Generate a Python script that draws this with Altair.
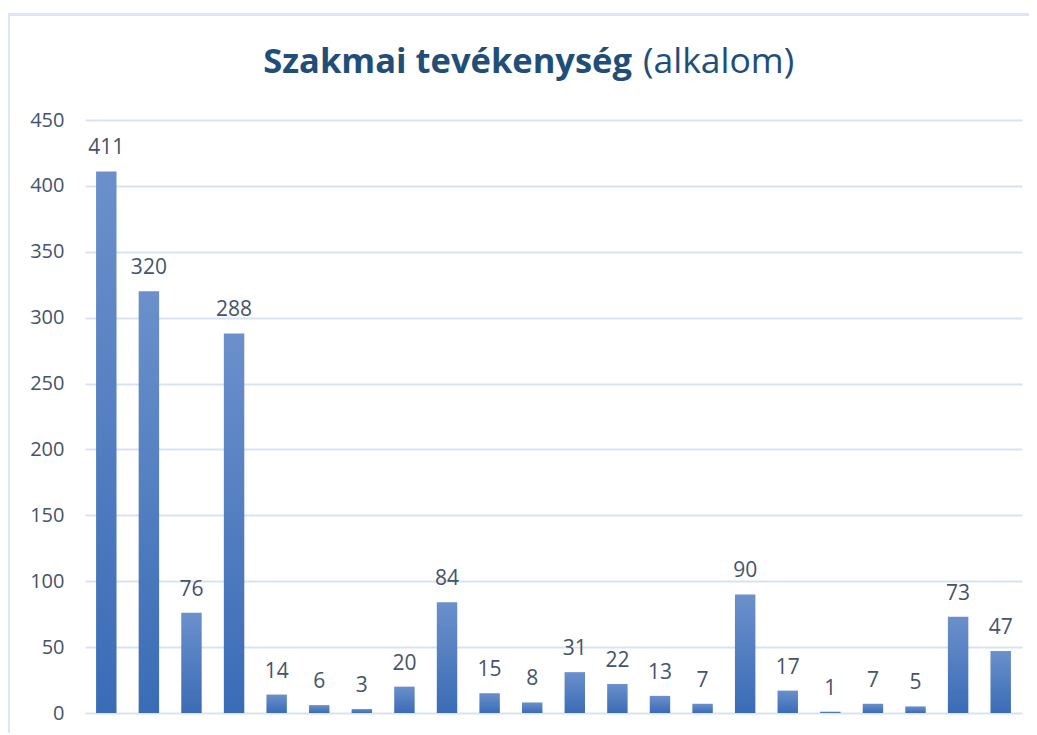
import altair as alt
import pandas as pd

categories = [str(i) for i in range(1, 23)]
values = [411, 320, 76, 288, 14, 6, 3, 20, 84, 15, 8, 31, 22, 13, 7, 90, 17, 1, 7, 5, 73, 47]
y_ticks = [0, 50, 100, 150, 200, 250, 300, 350, 400, 450]
title_bold = "Szakmai tevékenység"
title_normal = "(alkalom)"

df = pd.DataFrame({"cat": categories, "val": values})
one = pd.DataFrame({"k": [0]})

FONT = "Open Sans"
LABEL_COLOR = "#44546A"
TITLE_COLOR = "#1F4E79"
GRID = "#D9E2F3"

x_enc = alt.X("cat:N", sort=None, axis=None,
              scale=alt.Scale(paddingInner=0.52, paddingOuter=0.26))
y_enc = alt.Y("val:Q", scale=alt.Scale(domain=[0, 450], nice=False),
              axis=alt.Axis(values=y_ticks, title=None, domain=False, ticks=False,
                            labelFont=FONT, labelFontSize=20, labelColor=LABEL_COLOR,
                            labelPadding=21, gridColor=GRID, gridWidth=2))

grad = alt.Gradient(gradient="linear", x1=0, y1=0, x2=0, y2=1,
                    stops=[alt.GradientStop(color="#6B90CB", offset=0),
                           alt.GradientStop(color="#3A6CB6", offset=1)])

bars = alt.Chart(df).mark_bar(color=grad).encode(x=x_enc, y=y_enc)
labels = alt.Chart(df).mark_text(baseline="alphabetic", dy=-17, font=FONT, fontSize=21,
                                 color=LABEL_COLOR).encode(x=x_enc, y=y_enc, text="val:Q")

frame_left = alt.Chart(one).mark_rule(color="#DCE6F4", strokeWidth=3).encode(
    x=alt.value(-76.5), y=alt.value(-105.5), y2=alt.value(620))
frame_top = alt.Chart(one).mark_rule(color="#DCE6F4", strokeWidth=3).encode(
    x=alt.value(-78), x2=alt.value(960), y=alt.value(-105.5))

t1 = alt.Chart(one).mark_text(text=title_bold, align="right", baseline="alphabetic",
                              font=FONT, fontSize=34.5, fontWeight="bold",
                              color=TITLE_COLOR).encode(x=alt.value(547), y=alt.value(-47))
t2 = alt.Chart(one).mark_text(text=title_normal, align="left", baseline="alphabetic",
                              font=FONT, fontSize=35.5, fontWeight="normal",
                              color=TITLE_COLOR).encode(x=alt.value(558), y=alt.value(-47))

chart = alt.layer(frame_left, frame_top, bars, labels, t1, t2).properties(
    width=937, height=593,
    background="white",
    autosize=alt.AutoSizeParams(type="none"),
    padding={"left": 77, "top": 112, "right": 7, "bottom": 20},
).configure_view(strokeWidth=0, stroke="transparent")

chart.save("out.html", embed_options={"renderer": "svg", "actions": False})
